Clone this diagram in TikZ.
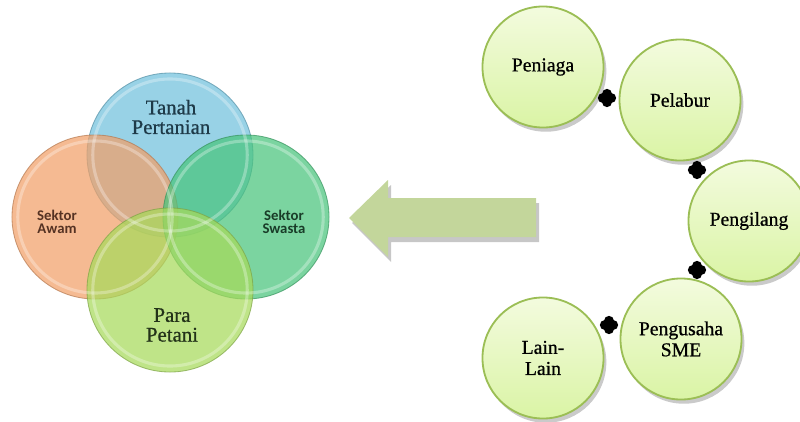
\documentclass[tikz,border=0pt]{standalone}
\usepackage{fontspec}
\setmainfont{Liberation Serif}[FakeBold=0.7]
\newfontfamily\calfont{Carlito}
\usetikzlibrary{shapes.geometric,shadows}
\definecolor{vblue}{RGB}{112,192,220}
\definecolor{vorange}{RGB}{241,160,104}
\definecolor{vgreen}{RGB}{72,196,124}
\definecolor{vlime}{RGB}{166,218,90}
\definecolor{arrowgreen}{RGB}{195,214,155}
\definecolor{bubbleedge}{RGB}{155,190,85}
\definecolor{bubbletop}{RGB}{243,251,222}
\definecolor{bubblebot}{RGB}{218,244,165}
\definecolor{tblue}{RGB}{30,58,72}
\definecolor{tbrown}{RGB}{85,50,35}
\definecolor{tgreen}{RGB}{25,60,40}
\definecolor{tlime}{RGB}{35,50,25}
\tikzset{
  venn/.style={ellipse, minimum width=4.15cm, minimum height=4.1cm, inner sep=0pt,
    draw=#1!75!black, draw opacity=0.7, line width=0.6pt, fill=#1, fill opacity=0.72},
  gloss/.style={draw=white, draw opacity=0.3, line width=2.2pt},
  bubble/.style={circle, minimum size=3.025cm, inner sep=0pt, align=center,
    draw=bubbleedge, line width=1.3pt, top color=bubbletop, bottom color=bubblebot,
    font=\fontsize{14}{15}\selectfont,
    drop shadow={shadow xshift=2pt, shadow yshift=-3pt, opacity=0.35, fill=black!60}},
  plusmark/.style={circle, minimum size=0.52cm, inner sep=0pt,
    path picture={
      \draw[line width=7pt, line cap=round]
        ([xshift=-3pt]path picture bounding box.center) -- ([xshift=3pt]path picture bounding box.center);
      \draw[line width=7pt, line cap=round]
        ([yshift=-3pt]path picture bounding box.center) -- ([yshift=3pt]path picture bounding box.center);
    }},
  bigtext/.style={align=center, font=\fontsize{14.8}{14}\selectfont},
  smalltext/.style={align=center, font=\calfont\bfseries\fontsize{10.5}{9.4}\selectfont},
}
\begin{document}
\begin{tikzpicture}[x=0.025cm,y=-0.025cm]
\useasboundingbox (0,0) rectangle (800,421);

% Venn circles
\node[venn=vblue]   (blue)   at (170,155) {};
\node[venn=vorange] (orange) at (95,217) {};
\node[venn=vgreen]  (green)  at (246,217) {};
\node[venn=vlime]   (lime)   at (170,290) {};
\foreach \c in {blue,orange,green,lime}{
  \draw[gloss] (\c.center) ellipse [x radius=1.93cm, y radius=1.9cm];
}

\node[bigtext, text=tblue] (tanah) at (171,117) {Tanah\\Pertanian};
\node[bigtext, text=tlime] (para) at (172,325) {Para\\Petani};
\node[smalltext, text=tbrown] (awam) at (57,222) {Sektor\\Awam};
\node[smalltext, text=tgreen] (swasta) at (284,222) {Sektor\\Swasta};

% Arrow
\begin{scope}[shift={(3,5)}]
\fill[black!22] (349,218) -- (388,180) -- (388,198) -- (536,198) -- (536,237) -- (388,237) -- (388,257) -- cycle;
\end{scope}
\fill[arrowgreen] (349,218) -- (388,180) -- (388,198) -- (536,198) -- (536,237) -- (388,237) -- (388,257) -- cycle;

% Bubbles
\node[bubble] (peniaga)   at (543,67)  {Peniaga};
\node[bubble] (pelabur)   at (680,100) {Pelabur};
\node[bubble] (pengilang) at (749,221) {Pengilang};
\node[bubble] (pengusaha) at (681,339) {Pengusaha\\SME};
\node[bubble] (lain)      at (543,358) {Lain-\\Lain};

% Plus marks
\node[plusmark] (p1) at (607,98) {};
\node[plusmark] (p2) at (697,170) {};
\node[plusmark] (p3) at (697,270) {};
\node[plusmark] (p4) at (609,325) {};
\end{tikzpicture}
\end{document}
